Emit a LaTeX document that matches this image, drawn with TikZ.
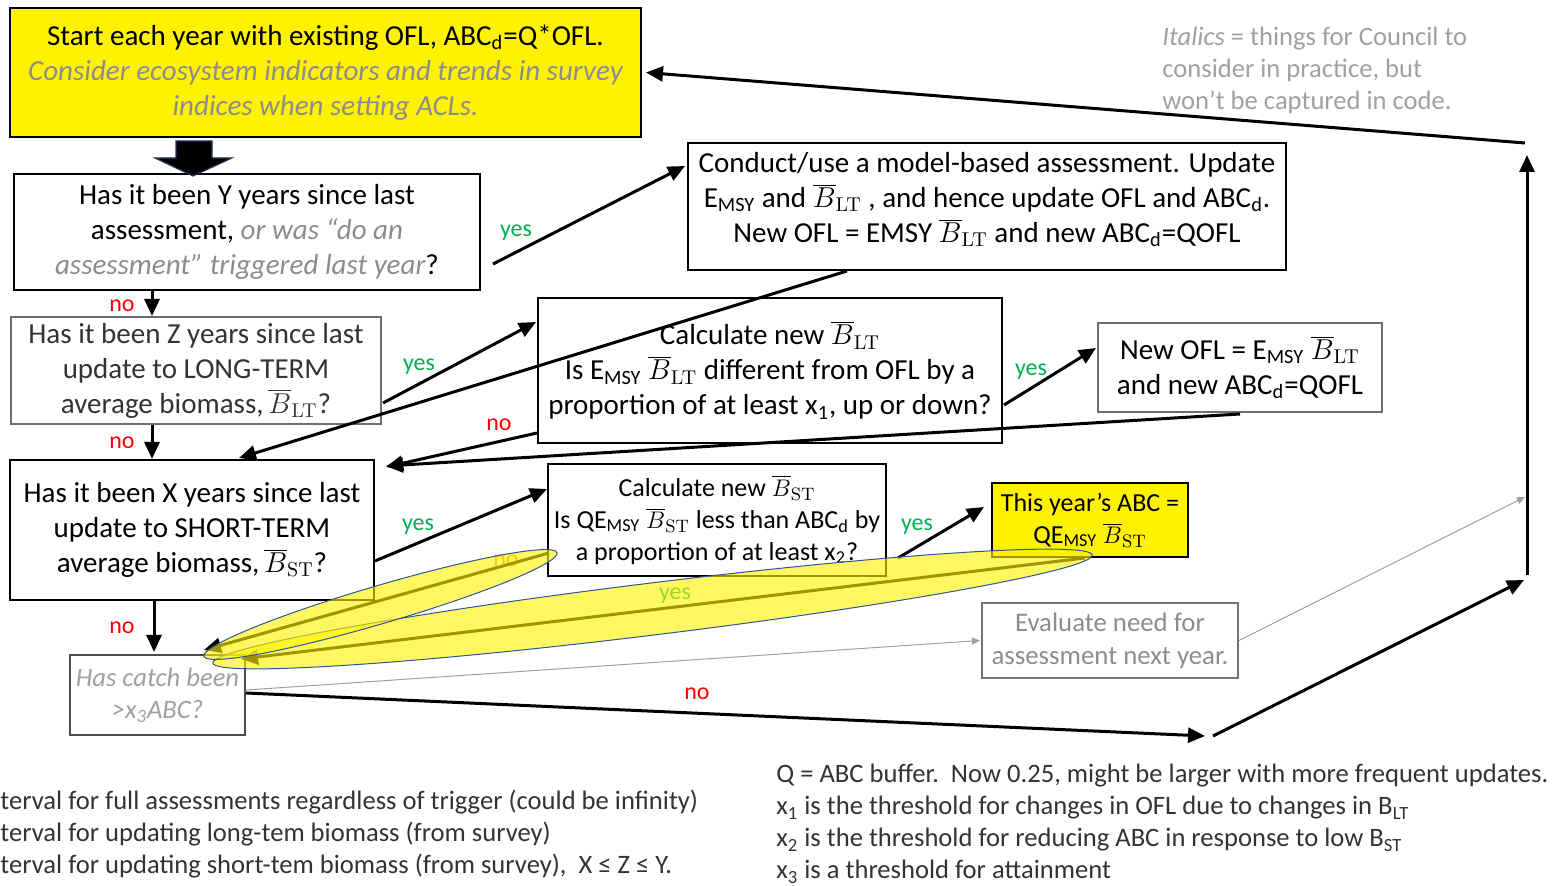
\documentclass[tikz,border=0pt]{standalone}
\usepackage[no-math]{fontspec}
\setmainfont{Carlito}
\usetikzlibrary{arrows.meta,calc}
\definecolor{itgray}{HTML}{8C8C8C}
\definecolor{ltgray}{HTML}{A0A0A0}
\definecolor{bxgray}{HTML}{6E6E6E}
\definecolor{yesgreen}{HTML}{00B050}
\definecolor{nored}{HTML}{FF0000}
\definecolor{noorange}{HTML}{FF9900}
\definecolor{navyedge}{HTML}{1F3864}
\definecolor{ellblue}{HTML}{2F5597}
\newcommand\mainfs{\fontsize{14.5}{17.5}\selectfont}
\newcommand\smallfs{\fontsize{13}{16}\selectfont}
\newcommand\catchfs{\fontsize{13.3}{16}\selectfont}
\newcommand\evalfs{\fontsize{13.4}{16.5}\selectfont}
\newcommand\notefs{\fontsize{13.3}{16}\selectfont}
\newcommand\labfs{\fontsize{12}{14}\selectfont}
\newcommand\BLT{$\overline{B}_{\mathrm{LT}}$}
\newcommand\BST{$\overline{B}_{\mathrm{ST}}$}
\begin{document}
\begin{tikzpicture}[x=0.5pt,y=-0.5pt,
  box/.style={draw=black,line width=1pt,inner sep=0pt,align=center,font=\mainfs},
  gbox/.style={box,draw=bxgray},
  arr/.style={line width=1.5pt,-{Triangle[length=8.5pt,width=7.5pt]}},
  garr/.style={draw=ltgray,line width=0.5pt,-{Triangle[length=4pt,width=3.5pt]}},
  ylab/.style={text=yesgreen,font=\labfs,inner sep=0pt},
  nlab/.style={text=nored,font=\labfs,inner sep=0pt},
  olab/.style={text=noorange,font=\labfs,inner sep=0pt},
  hl/.style={fill=yellow,fill opacity=0.62,draw=ellblue,line width=0.5pt}]
\useasboundingbox (0,0) rectangle (1554,886);

% boxes
\node[box,fill=yellow,minimum width=315.5pt,minimum height=64.5pt] (top) at (325.5,72.5)
 {Start each year with existing OFL, ABC\textsubscript{d}=Q*OFL.\\
  \color{itgray}\itshape Consider ecosystem indicators and trends in survey\\
  \color{itgray}\itshape indices when setting ACLs.};
\node[box,minimum width=233pt,minimum height=58pt] (Y) at (247,232)
 {Has it been Y years since last\\
  assessment, {\color{itgray}\itshape or was “do an}\\
  {\color{itgray}\itshape assessment” triggered last year}?};
\node[gbox,text=black!80,minimum width=185pt,minimum height=53.5pt] (Z) at (196,370.5)
 {Has it been Z years since last\\ update to LONG-TERM\\ average biomass,\,$\overline{B}_{\mathrm{LT}}$?};
\node[box,minimum width=182pt,minimum height=70pt] (X) at (192,530)
 {Has it been X years since last\\ update to SHORT-TERM\\ average biomass,\,$\overline{B}_{\mathrm{ST}}$?};
\node[gbox,draw=black!70,text=ltgray,font=\catchfs\itshape,minimum width=87.5pt,minimum height=40pt] (catch) at (157.5,695)
 {Has catch been\\ >x\textsubscript{3}ABC?};
\node[box,text depth=9pt,minimum width=299pt,minimum height=63.5pt] (model) at (987,206.5)
 {Conduct/use a model-based assessment. Update\\
  E\textsubscript{MSY} and \BLT\ , and hence update OFL and ABC\textsubscript{d}.\\
  New OFL = EMSY \BLT\ and new ABC\textsubscript{d}=QOFL};
\node[box,minimum width=232pt,minimum height=72.5pt] (calcLT) at (770,370.5)
 {Calculate new \BLT\\
  Is E\textsubscript{MSY} \BLT\ different from OFL by a\\
  proportion of at least x\textsubscript{1}, up or down?};
\node[gbox,minimum width=142pt,minimum height=44.5pt] (newOFL) at (1240,367.5)
 {New OFL = E\textsubscript{MSY} \BLT\\ and new ABC\textsubscript{d}=QOFL};
\node[box,font=\smallfs,minimum width=169pt,minimum height=56pt] (calcST) at (717,520)
 {Calculate new \BST\\
  Is QE\textsubscript{MSY} \BST\ less than ABC\textsubscript{d} by\\
  a proportion of at least x\textsubscript{2}?};
\node[box,font=\smallfs,fill=yellow,minimum width=98pt,minimum height=37pt] (ABC) at (1090,520)
 {This year’s ABC =\\ QE\textsubscript{MSY} \BST};
\node[gbox,draw=black!55,font=\evalfs,text=itgray,minimum width=128pt,minimum height=37.5pt] (eval) at (1110,640.5)
 {Evaluate need for\\ assessment next year.};

% block arrow
\filldraw[fill=black,draw=navyedge,line width=0.6pt]
 (176,141) -- (212,141) -- (212,158) -- (232,158) -- (193,176) -- (155,158) -- (176,158) -- cycle;

% notes
\node[anchor=north west,align=left,text=ltgray,font=\notefs,inner sep=0pt] (note) at (1162,27)
 {\textit{Italics} = things for Council to\\ consider in practice, but\\ won’t be captured in code.};
\node[anchor=north west,align=left,font=\notefs,text=black!80,inner sep=0pt] (legL) at (0,790)
 {terval for full assessments regardless of trigger (could be infinity)\\
  terval for updating long-tem biomass (from survey)\\
  terval for updating short-tem biomass (from survey),\ \ X ≤ Z ≤ Y.};
\node[anchor=north west,align=left,font=\notefs,text=black!80,inner sep=0pt] (legR) at (776,764)
 {Q = ABC buffer.\ \ Now 0.25, might be larger with more frequent updates.\\
  x\textsubscript{1} is the threshold for changes in OFL due to changes in B\textsubscript{LT}\\
  x\textsubscript{2} is the threshold for reducing ABC in response to low B\textsubscript{ST}\\
  x\textsubscript{3} is a threshold for attainment};

% labels
\node[ylab] (l1) at (516,233) {yes};
\node[nlab] (l2) at (122,306) {no};
\node[ylab] (l3) at (419,367) {yes};
\node[nlab] (l4) at (122,443) {no};
\node[ylab] (l5) at (1031,372) {yes};
\node[nlab] (l6) at (499,425) {no};
\node[ylab] (l7) at (418,527) {yes};
\node[nlab] (l8) at (122,628) {no};
\node[ylab] (l9) at (917,527) {yes};
\node[olab] (l10) at (506,561) {no};
\node[ylab] (l11) at (675,596) {yes};
\node[nlab] (l12) at (697,694) {no};

% connectors
\draw[arr] ($(Y.south east)+(12,-27)$) -- ($(model.north west)+(-2,24)$);
\draw[arr] ($(Y.south west)+(139,0)$) -- ($(Z.north west)+(142,0)$);
\draw[arr] ($(Z.south east)+(1,-22)$) -- ($(calcLT.north west)+(-1,25)$);
\draw[arr] ($(model.south west)+(160,0)$) -- ($(X.north west)+(230,-1)$);
\draw[arr] ($(Z.south west)+(142,0)$) -- ($(X.north west)+(143,0)$);
\draw[arr] ($(calcLT.south east)+(1,-39)$) -- ($(newOFL.north west)+(-1,26)$);
\draw[arr] ($(calcLT.south west)+(0,-11)$) -- ($(X.north east)+(11,8)$);
\draw[arr] ($(newOFL.south)+(0,1)$) -- ($(X.north east)+(11,7)$);
\draw[arr] ($(X.south east)+(0,-40)$) -- ($(calcST.north west)+(0,26)$);
\draw[arr] ($(X.south west)+(145,0)$) -- ($(catch.north west)+(85,-2)$);
\draw[arr] ($(calcST.south east)+(11,-19)$) -- ($(ABC.north west)+(-7,25)$);
\draw[arr] ($(calcST.south west)+(2,-24)$) -- ($(catch.north west)+(135,-4)$);
\draw[arr] ($(ABC.south)+(-5,0)$) -- ($(catch.north east)+(-5,5)$);
\draw[garr] ($(catch.east)+(0,-5)$) -- ($(eval.west)+(-1,0)$);
\coordinate (g1) at (1525,497);
\draw[garr] (eval.east) -- (g1);
\coordinate (A) at (1205,736);
\coordinate (B) at (1213,736);
\coordinate (C) at (1524,580);
\coordinate (D) at (1527,575);
\coordinate (E) at (1527,155);
\coordinate (F) at (1525,143);
\draw[arr] ($(catch.east)+(0,-2)$) -- (A);
\draw[arr] (B) -- (C);
\draw[arr] (D) -- (E);
\draw[arr] (F) -- ($(top.east)+(4,0)$);

% highlight ellipses
\draw[hl,rotate around={7.0:(652.5,609)}] (652.5,609) ellipse [x radius=443, y radius=26];
\draw[hl,rotate around={16.35:(380.5,604.5)}] (380.5,604.5) ellipse [x radius=184, y radius=19];
\end{tikzpicture}
\end{document}
